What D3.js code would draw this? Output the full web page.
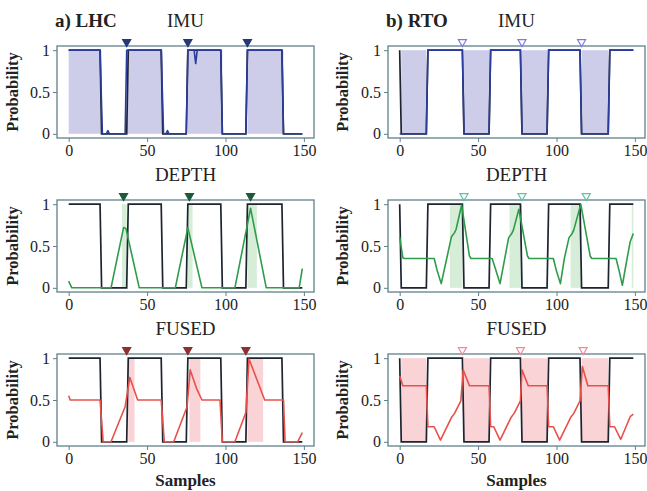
<!DOCTYPE html>
<html>
<head>
<meta charset="utf-8">
<script src="https://cdn.jsdelivr.net/npm/d3@7"></script>
<style>
  body { margin: 0; background: #fff; }
  svg text { font-family: "Liberation Serif", "DejaVu Serif", serif; fill: #222; }
</style>
</head>
<body>
<div class="chart"></div>
<script>
// ground truth step signals
const truthLHC = [[0,1],[20,1],[21,0],[37,0],[38,1],[59,1],[60,0],[75,0],[76,1],[97,1],[98,0],[113,0],[114,1],[136,1],[137,0],[149,0]]
const truthRTO = [[0,1],[1,0],[17,0],[18,1],[40,1],[41,0],[57,0],[58,1],[77,1],[78,0],[94,0],[95,1],[115,1],[116,0],[133,0],[134,1],[149,1]]

// predicted probabilities
const imuLHC = [[0,1],[20,1],[21.5,0],[24,0],[25,0.04],[26,0],[36,0],[37,1],[59,1],[60.5,0],[62,0],[63,0.04],[64,0],[75,0],[76,1],[80,1],[81,0.84],[82,1],[97,1],[98,0],[113,0],[114,1],[136,1],[137,0],[149,0]]
const imuRTO = [[0,0],[1,0],[17,0],[18,1],[40,1],[41,0],[57,0],[58,1],[77,1],[78,0],[94,0],[95,1],[115,1],[116,0],[133,0],[134,1],[149,1]]
const depthLHC = [[0,0.08],[2,0],[27,0],[35,0.72],[36.5,0.71],[45,0],[68,0],[76,0.72],[85,0],[106,0],[116,0.95],[126,0],[147,0],[149,0.23]]
const depthRTO = [[0,0.61],[2,0.36],[3,0.35],[22,0.35],[24,0.2],[26.5,0.05],[30,0.35],[33,0.61],[35,0.66],[36,0.7],[39.5,0.99],[44.5,0.38],[45.5,0.35],[59,0.35],[61.5,0.2],[64,0.05],[67,0.35],[69.5,0.6],[71.5,0.65],[72.5,0.69],[76,0.94],[81.5,0.38],[82.5,0.35],[98,0.35],[100,0.2],[102.5,0.05],[105,0.35],[108,0.6],[110,0.65],[111,0.69],[115.5,1.0],[121.5,0.38],[122.5,0.35],[138,0.35],[140,0.2],[142,0.03],[145,0.35],[147,0.55],[149,0.65]]
const fusedLHC = [[0,0.55],[1,0.5],[20,0.5],[22,0],[27,0],[36,0.42],[39,0.77],[44,0.5],[59,0.5],[61,0],[67,0],[75.5,0.42],[77.5,0.86],[81.5,0.64],[85,0.5],[96.5,0.5],[98,0],[106,0],[113,0.35],[115,0.99],[125,0.5],[137,0.5],[138,0],[146,0],[149,0.11]]
const fusedRTO = [[0,0.79],[2,0.67],[17,0.67],[18,0.18],[22,0.18],[26,0.02],[33,0.29],[35,0.34],[39,0.49],[40.5,0.86],[44.5,0.67],[57,0.67],[58,0.18],[60,0.18],[64,0.02],[71,0.29],[73,0.34],[77,0.49],[78,0.86],[82,0.67],[94,0.67],[95,0.18],[98,0.18],[102,0.02],[109,0.29],[111,0.34],[115,0.49],[116.5,0.9],[120,0.67],[133,0.67],[134,0.18],[137,0.18],[141,0.03],[147,0.3],[149,0.33]]

// shaded spans [start, end]
const imuLHCspans = [[0,21],[37,60],[76,98],[114,137]]
const imuRTOspans = [[1,17],[41,57],[78,94],[116,133]]
const depthLHCspans = [[34,37],[76,79],[114,120]]
const depthRTOspans = [[32,40],[70,78],[109,116],[148,149]]
const fusedLHCspans = [[38,42],[77,84],[114,124]]
const fusedRTOspans = [[1,17],[41,57],[78,94],[116,133]]

// event markers (sample index)
const imuLHCev = [37,76,114]
const imuRTOev = [40,78,116]
const depthLHCev = [35,77,116]
const depthRTOev = [41,78,119]
const fusedLHCev = [37,76,113]
const fusedRTOev = [40,77,117]

const xTicks = [0,50,100,150]
const yTicks = [0,0.5,1]
const rowTitles = ['IMU','DEPTH','FUSED']
const colTitles = ['a) LHC','b) RTO']

const panels = [
  {row:0, col:0, truth:truthLHC, pred:imuLHC, spans:imuLHCspans, ev:imuLHCev},
  {row:0, col:1, truth:truthRTO, pred:imuRTO, spans:imuRTOspans, ev:imuRTOev},
  {row:1, col:0, truth:truthLHC, pred:depthLHC, spans:depthLHCspans, ev:depthLHCev},
  {row:1, col:1, truth:truthRTO, pred:depthRTO, spans:depthRTOspans, ev:depthRTOev},
  {row:2, col:0, truth:truthLHC, pred:fusedLHC, spans:fusedLHCspans, ev:fusedLHCev},
  {row:2, col:1, truth:truthRTO, pred:fusedRTO, spans:fusedRTOspans, ev:fusedRTOev}
]

const lineColor = ['#2b3d9c', '#2e9c4a', '#e9504a']
const fillColor = ['#cdcde9', '#d6edd8', '#f9d3d6']
const markerDark = ['#26387a', '#1d5a3a', '#8c3030']
const markerLight = ['#7b7be6', '#5fc2a2', '#f2879a']
const frameColor = '#60808a'

const svg = d3.select('.chart').append('svg')
  .attr('width', 647)
  .attr('height', 491)

const colX = [57, 388]
const rowY = [46, 200, 354]
const pw = 257
const ph = 92

const x = d3.scaleLinear().domain([-7.45, 156.45]).range([0, pw])
const y = d3.scaleLinear().domain([-0.05, 1.05]).range([ph, 0])
const line = d3.line().x(d => x(d[0])).y(d => y(d[1]))

panels.forEach(p => {
  const g = svg.append('g')
    .attr('transform', `translate(${colX[p.col]}, ${rowY[p.row]})`)

  g.selectAll('rect.span')
    .data(p.spans)
    .enter()
    .append('rect')
    .attr('class', 'span')
    .attr('x', d => x(d[0]))
    .attr('width', d => x(d[1]) - x(d[0]))
    .attr('y', y(1))
    .attr('height', y(0) - y(1))
    .attr('fill', fillColor[p.row])

  g.append('path')
    .datum(p.truth)
    .attr('d', line)
    .attr('fill', 'none')
    .attr('stroke', '#1d2430')
    .attr('stroke-width', 1.7)

  g.append('path')
    .datum(p.pred)
    .attr('d', line)
    .attr('fill', 'none')
    .attr('stroke', lineColor[p.row])
    .attr('stroke-width', 1.6)
    .attr('stroke-linejoin', 'round')

  // frame
  g.append('rect')
    .attr('width', pw)
    .attr('height', ph)
    .attr('fill', 'none')
    .attr('stroke', frameColor)
    .attr('stroke-width', 1.3)

  const xa = g.append('g')
    .attr('transform', `translate(0, ${ph})`)
    .call(d3.axisBottom(x).tickValues(xTicks).tickSize(4).tickPadding(3))
  const ya = g.append('g')
    .call(d3.axisLeft(y).tickValues(yTicks).tickSize(4).tickPadding(3).tickFormat(d3.format('')))
  ;[xa, ya].forEach(a => {
    a.select('.domain').remove()
    a.selectAll('line').attr('stroke', frameColor)
    a.selectAll('text').attr('font-size', 16).attr('font-family', 'Liberation Serif').attr('fill', '#222')
  })

  // event markers
  const tri = d3.symbol().type(d3.symbolTriangle).size(28)
  g.selectAll('path.ev')
    .data(p.ev)
    .enter()
    .append('path')
    .attr('class', 'ev')
    .attr('d', tri)
    .attr('transform', d => `translate(${x(d)}, -4) rotate(180)`)
    .attr('fill', p.col === 0 ? markerDark[p.row] : 'none')
    .attr('stroke', p.col === 0 ? markerDark[p.row] : markerLight[p.row])
    .attr('stroke-width', 1.2)

  g.append('text')
    .attr('x', pw / 2)
    .attr('y', -19)
    .attr('text-anchor', 'middle')
    .attr('font-size', 19)
    .text(rowTitles[p.row])

  g.append('text')
    .attr('transform', `translate(${p.col === 0 ? -39 : -40}, ${ph / 2}) rotate(-90)`)
    .attr('text-anchor', 'middle')
    .attr('font-size', 16.5)
    .attr('font-weight', 'bold')
    .text('Probability')

  if (p.row === 0) {
    g.append('text')
      .attr('x', -2)
      .attr('y', -19)
      .attr('font-size', 19)
      .attr('font-weight', 'bold')
      .text(colTitles[p.col])
  }
  if (p.row === 2) {
    g.append('text')
      .attr('x', pw / 2)
      .attr('y', ph + 40)
      .attr('text-anchor', 'middle')
      .attr('font-size', 17)
      .attr('font-weight', 'bold')
      .text('Samples')
  }
})
</script>
</body>
</html>
